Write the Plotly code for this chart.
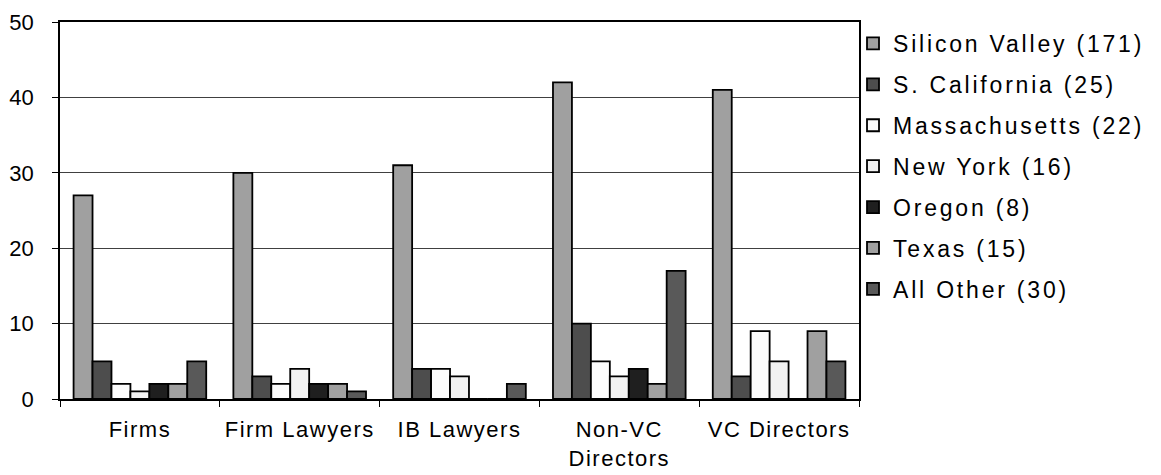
import plotly.graph_objects as go

categories = ["Firms", "Firm Lawyers", "IB Lawyers", "Non-VC Directors", "VC Directors"]
category_labels = ["Firms", "Firm Lawyers", "IB Lawyers", "Non-VC<br>Directors", "VC Directors"]
series_names = ["Silicon Valley (171)", "S. California (25)", "Massachusetts (22)",
                "New York (16)", "Oregon (8)", "Texas (15)", "All Other (30)"]
silicon_valley = [27, 30, 31, 42, 41]
s_california = [5, 3, 4, 10, 3]
massachusetts = [2, 2, 4, 5, 9]
new_york = [1, 4, 3, 3, 5]
oregon = [2, 2, 0, 4, 0]
texas = [2, 2, 0, 2, 9]
all_other = [5, 1, 2, 17, 5]
y_ticks = [0, 10, 20, 30, 40, 50]

series_values = [silicon_valley, s_california, massachusetts, new_york, oregon, texas, all_other]
colors = ["#a0a0a0", "#4d4d4d", "#fcfcfc", "#f2f2f2", "#1f1f1f", "#a0a0a0", "#595959"]

FONT = "Liberation Sans, Arial, sans-serif"


def spaced(text, px):
    return "<br>".join(f"<span style='letter-spacing:{px}px'>{part}</span>" for part in text.split("<br>"))


fig = go.Figure()
for i, (name, vals, col) in enumerate(zip(series_names, series_values, colors)):
    fig.add_trace(go.Bar(
        x=categories, y=vals, name=spaced(name, 2.8), legendgroup=f"g{i}",
        marker=dict(color=col, line=dict(color="#000000", width=1.8)),
    ))

fig.update_layout(
    width=1161, height=475,
    margin=dict(l=60, r=302, t=22, b=76, autoexpand=False),
    paper_bgcolor="white", plot_bgcolor="white",
    barmode="group", bargap=0.17, bargroupgap=0,
    font=dict(family=FONT, size=22, color="#000000"),
    legend=dict(x=0.9925, xanchor="left", y=1.0, yanchor="top",
                font=dict(family=FONT, size=23, color="#000000"),
                tracegroupgap=8, maxheight=460,
                bgcolor="rgba(0,0,0,0)", borderwidth=0),
    showlegend=True,
)
fig.update_yaxes(range=[0, 50], tickvals=y_ticks, showgrid=True, gridcolor="#404040", gridwidth=1,
                 showline=True, linecolor="#000000", linewidth=1.5, mirror=True,
                 ticks="outside", ticklen=6, tickcolor="#000000", zeroline=False,
                 ticklabelstandoff=14,
                 tickfont=dict(family=FONT, size=22))
fig.update_xaxes(showline=True, linecolor="#000000", linewidth=1.5, mirror=True,
                 ticks="outside", ticklen=6, tickcolor="#000000", tickson="boundaries",
                 tickmode="array", tickvals=categories,
                 ticktext=[spaced(t, 1.5) for t in category_labels],
                 ticklabelstandoff=10,
                 tickfont=dict(family=FONT, size=22))

fig.write_html("out.html", config={"displayModeBar": False},
               post_script="document.body.style.margin='0';document.body.style.overflow='hidden';")
